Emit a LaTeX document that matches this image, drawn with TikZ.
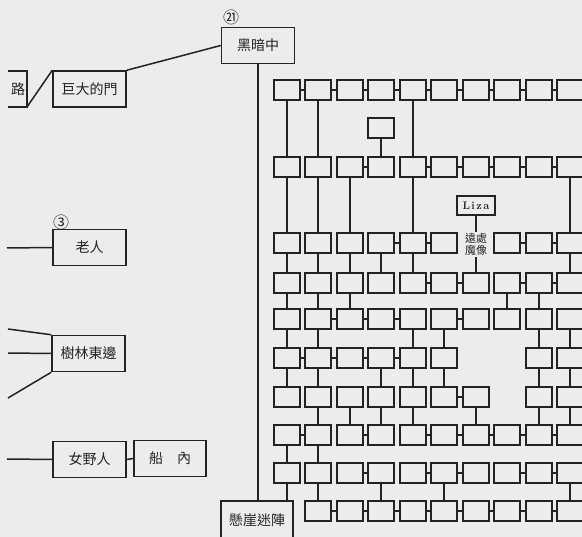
\documentclass[tikz,border=0pt]{standalone}
\usepackage{fontspec}
\newfontfamily\cjk{Noto Sans CJK TC}
\definecolor{ink}{RGB}{35,35,35}
\definecolor{paper}{RGB}{234,236,238}
\begin{document}
\begin{tikzpicture}[x=1pt,y=-1pt,
  ln/.style={line width=1.3pt, draw=ink},
  thick ln/.style={line width=1.5pt, draw=ink},
  cell/.style={draw=ink, line width=1.3pt, minimum width=26pt, minimum height=20pt, inner sep=0pt},
  big/.style={draw=ink, line width=1.5pt, minimum width=73pt, minimum height=36pt, inner sep=0pt, font=\cjk\fontsize{14}{16}\selectfont, text=ink},
  lab/.style={inner sep=0pt, font=\cjk\fontsize{16}{17}\selectfont, text=ink}]
\fill[paper] (0,0) rectangle (582,537);
\useasboundingbox (0,0) rectangle (582,537);

% grid of cells
\foreach \r/\y/\cols in {
  1/90/{1,2,3,4,5,6,7,8,9,10},
  2/167/{1,2,3,4,5,6,7,8,9,10},
  3/243/{1,2,3,4,5,6,8,9,10},
  4/283/{1,2,3,4,5,6,7,8,9,10},
  5/319/{1,2,3,4,5,6,7,8,9,10},
  6/358/{1,2,3,4,5,6,9,10},
  7/397/{1,2,3,4,5,6,7,9,10},
  8/435/{1,2,3,4,5,6,7,8,9,10},
  9/473/{1,2,3,4,5,6,7,8,9,10},
  10/511/{2,3,4,5,6,7,8,9,10}}{
  \foreach \c in \cols {
    \pgfmathtruncatemacro{\xx}{round(255+31.5*\c)}
    \node[cell] (b\r-\c) at (\xx,\y) {};
  }
}

% horizontal links
\foreach \r/\cs in {
  1/{1,2,3,4,5,6,7,8,9},
  2/{3,5,6,7,8,9},
  3/{4,5,8,9},
  4/{5,6,8,9},
  5/{2,3,4,6},
  6/{1,2,3,4},
  7/{6},
  8/{1,3,5,6,7,8,9},
  9/{3,5,6,8,9},
  10/{2,3,4,5,6,7,8,9}}{
  \foreach \c in \cs {
    \pgfmathtruncatemacro{\d}{\c+1}
    \draw[ln] (b\r-\c.east) -- (b\r-\d.west);
  }
}

% vertical links
\foreach \r/\cs in {
  1/{1,2,5},
  2/{1,2,3,5,10},
  3/{1,2,3,4,5,10},
  4/{1,2,3,8,9},
  5/{1,2,5,6,9,10},
  6/{1,2,4,5,6,9,10},
  7/{2,3,4,5,7,9,10},
  8/{1,2},
  9/{2,4,6,10}}{
  \foreach \c in \cs {
    \pgfmathtruncatemacro{\s}{\r+1}
    \draw[ln] (b\r-\c.south) -- (b\s-\c.north);
  }
}

% extra cell above row 2
\node[cell] (top) at (381,128) {};
\draw[ln] (top.south) -- (b2-4.north);

% Liza and far statue
\node[draw=ink, line width=1.3pt, minimum width=38pt, minimum height=19pt, inner sep=0pt, font=\bfseries\fontsize{11}{12}\selectfont, text=ink] (liza) at (476,205.5) {L\kern1.5pt i\kern1.5pt z\kern1.5pt a};
\node[inner sep=1pt, align=center, font=\cjk\fontsize{11}{12.5}\selectfont, text=ink] (far) at (476,244.5) {遠處\\魔像};
\draw[ln] (liza.south) -- (far.north);
\draw[ln] (far.south) -- (b4-7.north);

% main column
\node[big] (dark) at (258,45.5) {黑暗中};
\node[lab, anchor=south west] (n21) at (223,25) {㉑};
\node[big, minimum height=38pt, minimum width=72pt] (cliff) at (257,520) {懸崖迷陣};
\draw[thick ln] (dark.south) -- (dark.south |- cliff.north);
\draw[ln] (b9-1.south) -- (b9-1.south |- cliff.north);

% left side
\draw[thick ln] (8,71) -- (27,71) -- (27,107) -- (8,107);
\node[lab, font=\cjk\fontsize{14}{16}\selectfont] (road) at (18,89) {路};
\coordinate (roadc) at (27,107);
\node[big] (gate) at (89.5,89) {巨大的門};
\draw[thick ln] (roadc) -- (gate.north west);
\draw[thick ln] (gate.north east) -- (dark.west);

\node[big] (old) at (89.5,247.5) {老人};
\node[lab, anchor=south west] (n3) at (53,230) {③};
\coordinate (oldin) at (7,248);
\draw[thick ln] (oldin) -- (old.west);

\node[big] (forest) at (88.5,353.5) {樹林東邊};
\coordinate (f1) at (8,329);
\coordinate (f2) at (8,353);
\coordinate (f3) at (8,398);
\draw[thick ln] (f1) -- (forest.north west);
\draw[thick ln] (f2) -- (forest.west);
\draw[thick ln] (f3) -- (forest.south west);

\node[big] (wild) at (89.5,459.5) {女野人};
\node[big, minimum width=72pt] (ship) at (170,458.5) {船\hspace{1em}內};
\coordinate (wildin) at (7,459);
\draw[thick ln] (wildin) -- (wild.west);
\draw[thick ln] (wild.east) -- (ship.west);
\end{tikzpicture}
\end{document}
